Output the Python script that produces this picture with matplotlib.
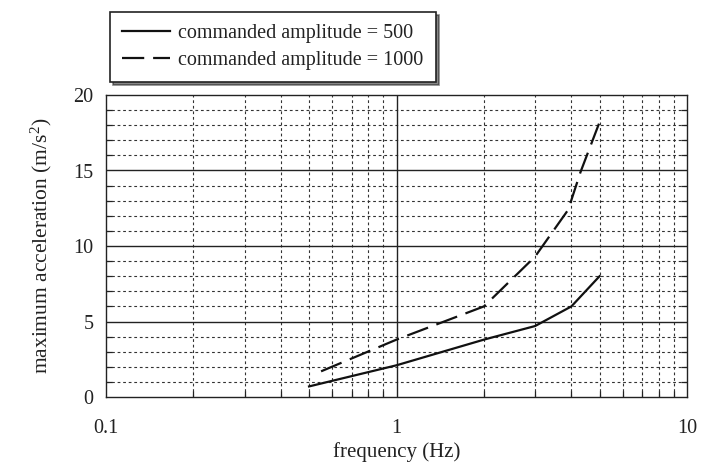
import matplotlib
matplotlib.use("Agg")
import matplotlib.pyplot as plt
from matplotlib.ticker import FixedLocator, NullFormatter, FixedFormatter

# data
freq_500 = [0.5, 1.0, 2.0, 3.0, 4.0, 5.0]
acc_500 = [0.7, 2.1, 3.8, 4.7, 6.0, 8.0]
freq_1000 = [0.55, 1.0, 2.0, 3.0, 3.9, 4.3, 5.0]
acc_1000 = [1.7, 3.8, 6.0, 9.3, 12.4, 14.9, 18.2]
labels = ["commanded amplitude = 500", "commanded amplitude = 1000"]
xticks = [0.1, 1, 10]
xticklabels = ["0.1", "1", "10"]
yticks = [0, 5, 10, 15, 20]

plt.rcParams['font.family'] = ['Liberation Serif', 'DejaVu Serif']
plt.rcParams['mathtext.fontset'] = 'custom'
plt.rcParams['mathtext.rm'] = 'Liberation Serif'
plt.rcParams['mathtext.it'] = 'Liberation Serif:italic'

fig = plt.figure(figsize=(7.01, 4.65), dpi=100)
W, H = 701, 465
ax = fig.add_axes([106 / W, 1 - 397 / H, (687 - 106) / W, (397 - 95) / H])

ax.set_xscale('log')
ax.set_xlim(0.1, 10)
ax.set_ylim(0, 20)

# grid
minor_x = [m * d for d in (0.1, 1) for m in range(2, 10)]
for x in minor_x:
    ax.axvline(x, color='#333333', lw=0.8, ls=(0, (2.5, 2.5)), zorder=1)
for y in range(1, 20):
    if y % 5:
        ax.axhline(y, color='#333333', lw=0.8, ls=(0, (2.5, 2.5)), zorder=1)
for y in (5, 10, 15):
    ax.axhline(y, color='#222222', lw=1.0, zorder=1)
ax.axvline(1, color='#222222', lw=1.0, zorder=1)

l1, = ax.plot(freq_500, acc_500, color='#111111', lw=1.6, ls='-', zorder=3)
l2, = ax.plot(freq_1000, acc_1000, color='#111111', lw=1.6, ls=(0, (10, 4)), zorder=3)

ax.xaxis.set_major_locator(FixedLocator(xticks))
ax.xaxis.set_major_formatter(FixedFormatter(xticklabels))
ax.xaxis.set_minor_locator(FixedLocator(minor_x))
ax.xaxis.set_minor_formatter(NullFormatter())
ax.yaxis.set_major_locator(FixedLocator(yticks))
ax.yaxis.set_minor_locator(FixedLocator(list(range(0, 21))))

ax.tick_params(which='both', direction='in', top=False, right=True, colors='#222222', labelcolor='#222222')
ax.tick_params(which='major', length=0, labelsize=14.5)
ax.tick_params(axis='x', which='major', pad=16)
ax.tick_params(axis='y', which='major', pad=9)
ax.tick_params(which='minor', length=4, width=0.9)

for s in ax.spines.values():
    s.set_linewidth(1.0)
    s.set_color('#222222')

ax.set_xlabel('frequency (Hz)', fontsize=15, color='#222222', labelpad=3)
ax.set_ylabel(r'maximum acceleration (m/s$^{2}$)', fontsize=15.5, color='#222222', labelpad=14)

leg = fig.legend([l1, l2], labels, loc='upper left',
                 bbox_to_anchor=(110 / W, 1 - 12 / H), fontsize=14.5,
                 frameon=True, fancybox=False, shadow={'color': '#111111'},
                 edgecolor='#222222', framealpha=1, handlelength=2.4,
                 handletextpad=0.4, borderpad=0.6, labelspacing=0.4,
                 borderaxespad=0)
leg.get_frame().set_linewidth(1.2)
for t in leg.get_texts():
    t.set_color('#222222')

fig.savefig('out.png', dpi=100)
